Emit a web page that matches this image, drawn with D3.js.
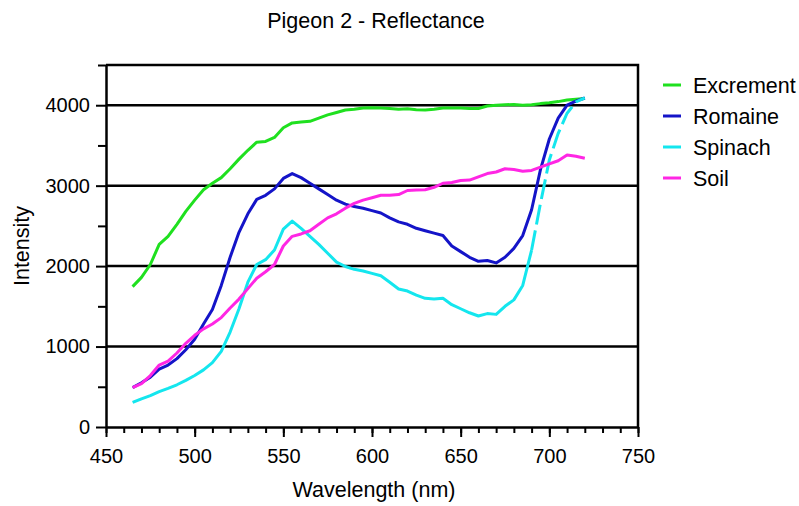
<!DOCTYPE html>
<html>
<head>
<meta charset="utf-8">
<script src="https://cdn.jsdelivr.net/npm/d3@7"></script>
<style>
  body { margin: 0; background: #fff; }
  text { font-family: "Liberation Sans", Arial, sans-serif; fill: #000; }
</style>
</head>
<body>
<script>
// wavelengths (nm), one reading every 5 nm
var wavelengths = d3.range(465, 721, 5);

var excrement = [1745, 1860, 2020, 2270, 2370, 2520, 2680, 2820, 2950, 3030,
  3100, 3210, 3330, 3440, 3540, 3550, 3600, 3720, 3780, 3790,
  3800, 3840, 3880, 3910, 3940, 3950, 3965, 3970, 3965, 3960,
  3950, 3955, 3945, 3940, 3950, 3965, 3965, 3965, 3960, 3960,
  3990, 4000, 4005, 4010, 4000, 4005, 4020, 4030, 4045, 4065,
  4075, 4085];

var romaine = [490, 550, 620, 720, 770, 850, 960, 1090, 1280, 1460,
  1760, 2110, 2420, 2650, 2830, 2880, 2960, 3090, 3150, 3100,
  3030, 2960, 2890, 2820, 2770, 2740, 2720, 2690, 2660, 2600,
  2550, 2520, 2470, 2440, 2410, 2380, 2250, 2180, 2110, 2060,
  2070, 2040, 2110, 2220, 2380, 2700, 3200, 3580, 3840, 4000,
  4050, 4090];

var spinach = [305, 350, 390, 440, 480, 525, 580, 640, 710, 800,
  940, 1180, 1470, 1800, 2020, 2080, 2200, 2460, 2560, 2470,
  2370, 2270, 2160, 2050, 1995, 1960, 1940, 1910, 1880, 1800,
  1715, 1690, 1640, 1600, 1590, 1600, 1520, 1470, 1420, 1380,
  1410, 1400, 1500, 1580, 1760, 2200, 2780, 3320, 3650, 3900,
  4040, 4090];

var soil = [490, 540, 640, 770, 820, 920, 1040, 1140, 1220, 1280,
  1360, 1480, 1590, 1720, 1850, 1930, 2020, 2250, 2370, 2400,
  2440, 2520, 2600, 2650, 2720, 2780, 2820, 2850, 2880, 2880,
  2890, 2940, 2945, 2950, 2980, 3030, 3040, 3065, 3070, 3110,
  3150, 3170, 3210, 3200, 3180, 3190, 3230, 3270, 3310, 3380,
  3365, 3340];

var seriesNames = ["Excrement", "Romaine", "Spinach", "Soil"];
var seriesColors = ["#1fe01f", "#1414c8", "#14e6ee", "#ff26e4"];
var xTicks = [450, 500, 550, 600, 650, 700, 750];
var yTicks = [0, 1000, 2000, 3000, 4000];

(function(){
  var w = 799, h = 506;
  var mLeft = 106, mRight = 638, mTop = 65, mBottom = 427;

  var svg = d3.select("body").append("svg")
      .attr("width", w)
      .attr("height", h);

  var x = d3.scaleLinear().domain([450, 750]).range([mLeft, mRight]);
  var y = d3.scaleLinear().domain([0, 4500]).range([mBottom, mTop]);

  // horizontal gridlines
  svg.append("g")
      .selectAll("line")
      .data(yTicks.filter(function(d){ return d > 0; }))
      .enter().append("line")
      .attr("x1", mLeft).attr("x2", mRight)
      .attr("y1", function(d){ return y(d); })
      .attr("y2", function(d){ return y(d); })
      .attr("stroke", "#000")
      .attr("stroke-width", 2.5);

  // top and right frame
  svg.append("path")
      .attr("d", "M" + mLeft + "," + mTop + "H" + mRight + "V" + mBottom)
      .attr("fill", "none")
      .attr("stroke", "#000").attr("stroke-width", 2.5);

  // x axis: minor ticks every 10 nm, majors every 50
  var xAxis = svg.append("g").attr("transform", "translate(0," + mBottom + ")");
  xAxis.append("g")
      .call(d3.axisBottom(x).tickValues(d3.range(450, 751, 10)).tickSize(6).tickFormat(""))
      .call(function(g){ g.select(".domain").remove(); });
  xAxis.append("g")
      .call(d3.axisBottom(x).tickValues(xTicks).tickSize(10).tickSizeOuter(0).tickPadding(12))
      .call(function(g){
        g.select(".domain").attr("stroke-width", 2.5);
        g.selectAll("text").attr("font-size", "20px").attr("font-family", "Liberation Sans, Arial, sans-serif");
      });
  xAxis.selectAll(".tick line").attr("stroke-width", 2);

  // y axis: majors every 1000, minors every 500
  var yAxis = svg.append("g").attr("transform", "translate(" + mLeft + ",0)");
  yAxis.append("g")
      .call(d3.axisLeft(y).tickValues(d3.range(500, 4501, 1000)).tickSize(8).tickFormat(""))
      .call(function(g){ g.select(".domain").remove(); });
  yAxis.append("g")
      .call(d3.axisLeft(y).tickValues(yTicks).tickSize(10).tickSizeOuter(0).tickPadding(6).tickFormat(d3.format("d")))
      .call(function(g){
        g.select(".domain").attr("stroke-width", 2.5);
        g.selectAll("text").attr("font-size", "20px").attr("font-family", "Liberation Sans, Arial, sans-serif");
      });
  yAxis.selectAll(".tick line").attr("stroke-width", 2);

  var line = d3.line()
      .x(function(d){ return x(d[0]); })
      .y(function(d){ return y(d[1]); });

  var allSeries = [excrement, romaine, spinach, soil];

  allSeries.forEach(function(vals, i){
    var pts = wavelengths.map(function(wl, j){ return [wl, vals[j]]; });
    if (seriesNames[i] === "Spinach") {
      // solid up to 690 nm, then dashed to the end
      var cut = wavelengths.indexOf(690);
      svg.append("path").datum(pts.slice(0, cut + 1))
          .attr("d", line).attr("fill", "none")
          .attr("stroke", seriesColors[i]).attr("stroke-width", 3)
          .attr("stroke-linejoin", "round");
      svg.append("path").datum(pts.slice(cut))
          .attr("d", line).attr("fill", "none")
          .attr("stroke", seriesColors[i]).attr("stroke-width", 3)
          .attr("stroke-dasharray", "20,6");
    } else {
      svg.append("path").datum(pts)
          .attr("d", line).attr("fill", "none")
          .attr("stroke", seriesColors[i]).attr("stroke-width", 3)
          .attr("stroke-linejoin", "round");
    }
  });

  // title
  svg.append("text")
      .attr("x", 376).attr("y", 28)
      .attr("text-anchor", "middle")
      .style("font-size", "21.5px")
      .text("Pigeon 2 - Reflectance");

  // axis titles
  svg.append("text")
      .attr("x", 374).attr("y", 497)
      .attr("text-anchor", "middle")
      .style("font-size", "21.5px")
      .text("Wavelength (nm)");

  svg.append("text")
      .attr("transform", "translate(29,246) rotate(-90)")
      .attr("text-anchor", "middle")
      .style("font-size", "21.5px")
      .text("Intensity");

  // legend
  var legend = svg.selectAll(".legend")
      .data(seriesNames)
      .enter().append("g")
      .attr("class", "legend")
      .attr("transform", function(d, i){ return "translate(663," + (85 + i * 31) + ")"; });

  legend.append("line")
      .attr("x1", 0).attr("x2", 18)
      .attr("stroke", function(d, i){ return seriesColors[i]; })
      .attr("stroke-width", 3);

  legend.append("text")
      .attr("x", 30).attr("y", 7.5)
      .style("font-size", "21.5px")
      .text(function(d){ return d; });
})();
</script>
</body>
</html>
